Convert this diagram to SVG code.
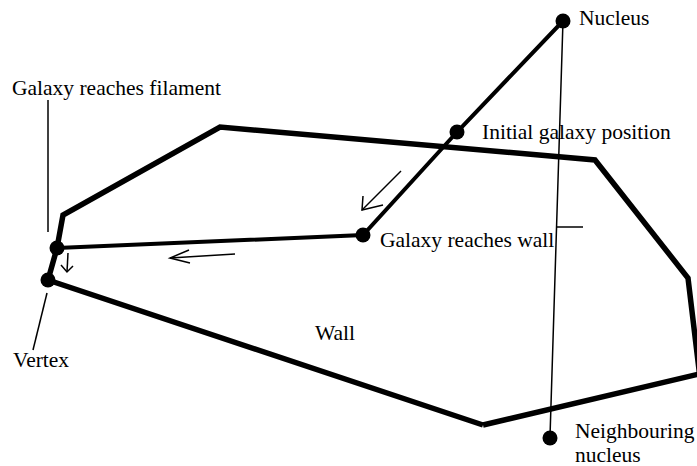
<svg xmlns="http://www.w3.org/2000/svg" width="697" height="466" viewBox="0 0 697 466">
<style>
.wall{fill:none;stroke:#000;stroke-width:5.5;stroke-linejoin:miter}
.path{fill:none;stroke:#000;stroke-width:4}
.thin{fill:none;stroke:#000;stroke-width:1.5}
.arr{fill:none;stroke:#000;stroke-width:1.5}
.dot{fill:#000}
.lbl{font-family:'Liberation Serif','Times New Roman',serif;font-size:21.5px;fill:#000}
</style>
<rect width="697" height="466" fill="#fff"/>
<g id="wall">
<polyline class="wall" points="483,425 48,280 57,248 63,215 220,127 595,160 688,278 700,378"/>
<line class="wall" x1="483" y1="425" x2="712" y2="371"/>
<text class="lbl" x="315" y="340">Wall</text>
</g>
<g id="connectors">
<line class="thin" x1="563" y1="21" x2="550" y2="437"/>
<line class="thin" x1="557" y1="227" x2="583" y2="227"/>
<polyline class="path" points="563,21 457,132 363,235 57,248"/>
<line class="thin" x1="48" y1="100" x2="48" y2="232"/>
<line class="thin" x1="47" y1="293" x2="33" y2="350"/>
<polyline class="arr" points="401,171 362,210"/>
<polyline class="arr" points="363,196 362,210 383,205"/>
<polyline class="arr" points="235,254 170,258"/>
<polyline class="arr" points="189,250 170,258 190,263"/>
<polyline class="arr" points="68,253 67,272"/>
<polyline class="arr" points="61,265 67,272 73,266"/>
</g>
<g id="nucleus">
<circle class="dot" cx="563" cy="21" r="7.5"/>
<text class="lbl" x="579" y="25">Nucleus</text>
</g>
<g id="initial">
<circle class="dot" cx="457" cy="132" r="7.5"/>
<text class="lbl" x="482" y="139">Initial galaxy position</text>
</g>
<g id="reaches-wall">
<circle class="dot" cx="363" cy="235" r="7.5"/>
<text class="lbl" x="380" y="247">Galaxy reaches wall</text>
</g>
<g id="reaches-filament">
<circle class="dot" cx="57" cy="248" r="7.5"/>
<text class="lbl" x="12" y="95">Galaxy reaches filament</text>
</g>
<g id="vertex">
<circle class="dot" cx="48" cy="280" r="7.5"/>
<text class="lbl" x="13" y="367">Vertex</text>
</g>
<g id="neighbour">
<circle class="dot" cx="550" cy="438" r="7.5"/>
<text class="lbl" x="575" y="438">Neighbouring</text>
<text class="lbl" x="575" y="462">nucleus</text>
</g>
</svg>
